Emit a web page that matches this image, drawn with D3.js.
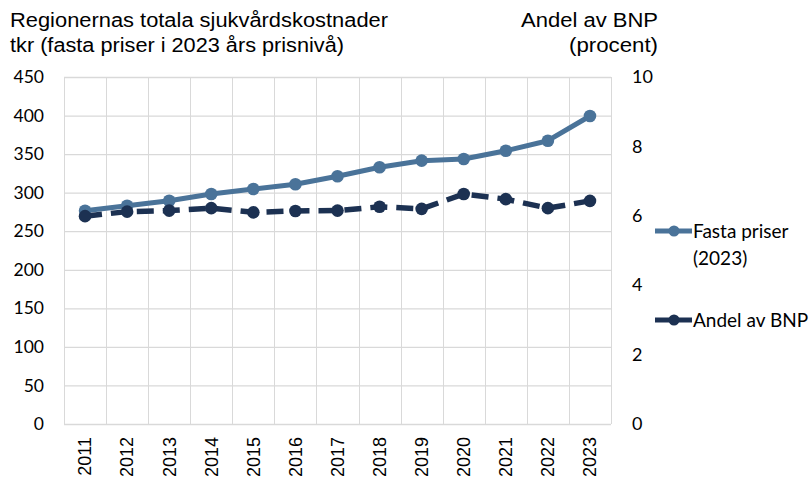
<!DOCTYPE html>
<html>
<head>
<meta charset="utf-8">
<script src="https://cdn.jsdelivr.net/npm/d3@7"></script>
<style>
body{margin:0;background:#fff;}
svg{display:block;}
</style>
</head>
<body>
<div id="main"></div>
<script>
// data
var years=[2011,2012,2013,2014,2015,2016,2017,2018,2019,2020,2021,2022,2023];
var fasta=[276.6,283.1,289.6,298.3,304.8,310.9,321.2,332.9,341.5,343.7,354.4,367.4,399.4];
var andel=[5.99,6.12,6.15,6.22,6.10,6.14,6.15,6.26,6.20,6.63,6.48,6.22,6.43];
var leftTicks=[0,50,100,150,200,250,300,350,400,450];
var rightTicks=[0,2,4,6,8,10];
var seriesNames=['Fasta priser','(2023)','Andel av BNP'];

var width=812,height=482;
var pLeft=64,pRight=611,pTop=77,pBottom=424;
var c1='#4a7399',c2='#1c3152';

var svg=d3.select('#main').append('svg')
    .attr('width',width)
    .attr('height',height);

var x=d3.scaleBand().domain(years).range([pLeft,pRight]);
var y=d3.scaleLinear().domain([0,450]).range([pBottom,pTop]);
var y2=d3.scaleLinear().domain([0,10]).range([pBottom,pTop]);

// grid
var grid=svg.append('g').attr('class','grid');
grid.selectAll('line.h')
    .data(leftTicks)
  .enter().append('line')
    .attr('x1',pLeft).attr('x2',pRight)
    .attr('y1',function(d){return y(d)+0.5})
    .attr('y2',function(d){return y(d)+0.5})
    .attr('stroke','#d9d9d9').attr('stroke-width',1.3);
var edges=years.map(function(d){return x(d)}).concat([pRight]);
grid.selectAll('line.v')
    .data(edges)
  .enter().append('line')
    .attr('x1',function(d){return Math.round(d)+0.5})
    .attr('x2',function(d){return Math.round(d)+0.5})
    .attr('y1',pTop).attr('y2',pBottom)
    .attr('stroke','#d9d9d9').attr('stroke-width',1);

// axes
var af='Lato, "Open Sans", sans-serif';
var yAxis=svg.append('g')
    .attr('transform','translate(44,0)')
    .call(d3.axisLeft(y).tickValues(leftTicks).tickSize(0).tickPadding(0));
yAxis.select('.domain').remove();
yAxis.selectAll('text')
    .attr('font-family',af)
    .attr('font-size',17.5).attr('fill','#000');

var y2Axis=svg.append('g')
    .attr('transform','translate(632,0)')
    .call(d3.axisRight(y2).tickValues(rightTicks).tickSize(0).tickPadding(0));
y2Axis.select('.domain').remove();
y2Axis.selectAll('text')
    .attr('font-family',af)
    .attr('font-size',18).attr('fill','#000');

var xAxis=svg.append('g')
    .attr('transform','translate(0,437)')
    .call(d3.axisBottom(x).tickSize(0).tickPadding(0));
xAxis.select('.domain').remove();
xAxis.selectAll('text')
    .attr('font-family','"Liberation Sans", Arial, sans-serif')
    .attr('font-size',18).attr('fill','#000')
    .attr('transform','rotate(-90)')
    .attr('text-anchor','end')
    .attr('x',0).attr('y',0).attr('dy','0.35em');

// lines
var cx=function(d,i){return x(years[i])+x.bandwidth()/2};
var line1=d3.line().x(cx).y(function(d){return y(d)});
var line2=d3.line().x(cx).y(function(d){return y2(d)});

svg.append('path')
    .datum(fasta)
    .attr('d',line1)
    .attr('fill','none').attr('stroke',c1).attr('stroke-width',5)
    .attr('stroke-linejoin','round');
svg.selectAll('circle.f')
    .data(fasta)
  .enter().append('circle')
    .attr('cx',cx).attr('cy',function(d){return y(d)})
    .attr('r',6.3).attr('fill',c1);

svg.append('path')
    .datum(andel)
    .attr('d',line2)
    .attr('fill','none').attr('stroke',c2).attr('stroke-width',5.5)
    .attr('stroke-dasharray','17,9');
svg.selectAll('circle.a')
    .data(andel)
  .enter().append('circle')
    .attr('cx',cx).attr('cy',function(d){return y2(d)})
    .attr('r',6.3).attr('fill',c2);

// titles
var tf='"Liberation Sans Narrow", "Arial Narrow", sans-serif';
function title(txt,xx,yy,anchor,len){
  svg.append('text').attr('x',xx).attr('y',yy).attr('text-anchor',anchor)
      .attr('font-family',tf).attr('font-size',20)
      .attr('textLength',len).attr('lengthAdjust','spacingAndGlyphs')
      .text(txt);
}
title('Regionernas totala sjukvårdskostnader',10,27,'start',378);
title('tkr (fasta priser i 2023 års prisnivå)',10,52,'start',334);
title('Andel av BNP',658,27,'end',137);
title('(procent)',658,52,'end',89);

// legend
function legendItem(yy,color){
  svg.append('line').attr('x1',655).attr('x2',692).attr('y1',yy).attr('y2',yy)
      .attr('stroke',color).attr('stroke-width',5);
  svg.append('circle').attr('cx',674).attr('cy',yy).attr('r',5.5).attr('fill',color);
}
legendItem(231,c1);
legendItem(320,c2);
svg.append('text').attr('x',693).attr('y',238)
    .attr('font-family',af).attr('font-size',19).text(seriesNames[0]);
svg.append('text').attr('x',693).attr('y',265)
    .attr('font-family',af).attr('font-size',19).text(seriesNames[1]);
svg.append('text').attr('x',693).attr('y',327)
    .attr('font-family',af).attr('font-size',19).text(seriesNames[2]);
</script>
</body>
</html>
